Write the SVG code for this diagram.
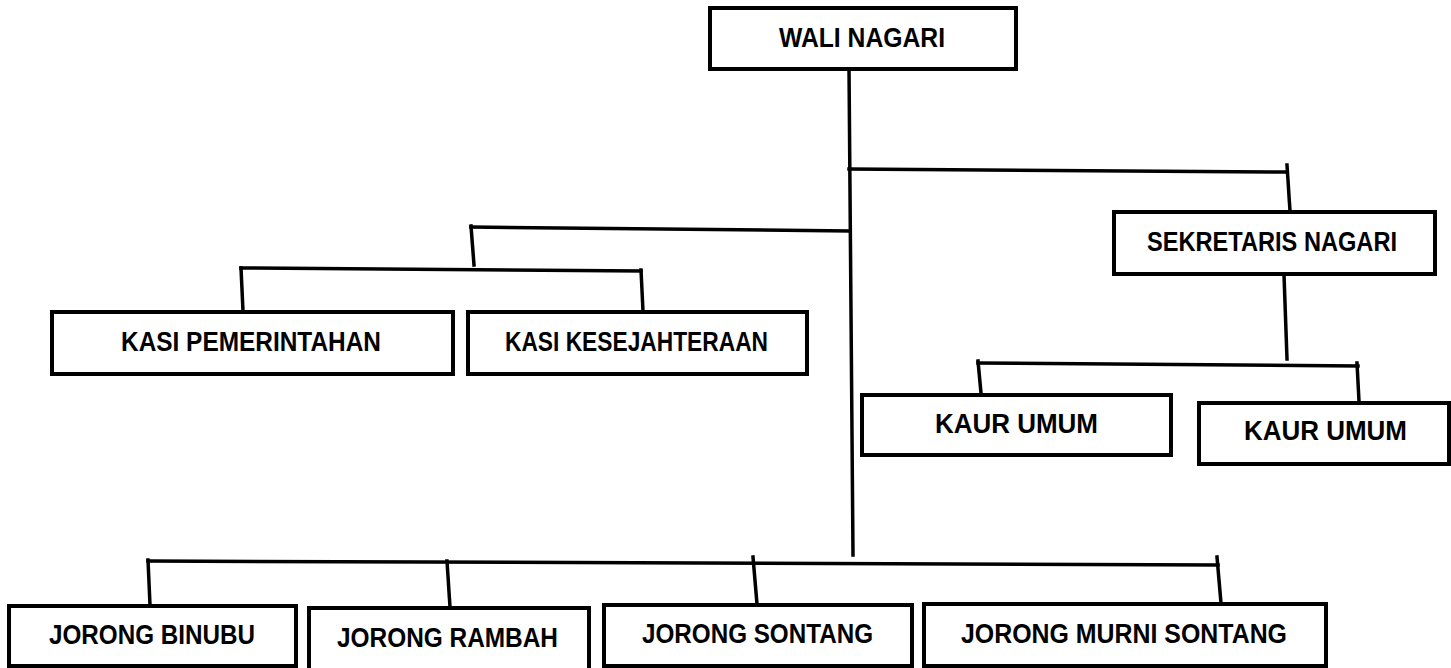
<svg xmlns="http://www.w3.org/2000/svg" width="1451" height="668" viewBox="0 0 1451 668">
<style>
.box{fill:#fff;stroke:#000;stroke-width:4}
.lbl{font-family:"Liberation Sans",Arial,sans-serif;font-weight:bold;font-size:27px;fill:#000}
.con line{stroke:#000;stroke-width:3.5;stroke-linecap:square}
</style>
<rect width="1451" height="668" fill="#fff"/>
<g id="connectors" class="con">
<line x1="849" y1="68" x2="853" y2="555"/>
<line x1="849" y1="169" x2="1287" y2="172"/>
<line x1="1287" y1="165" x2="1290" y2="211"/>
<line x1="1284" y1="275" x2="1287" y2="359"/>
<line x1="978" y1="363" x2="1358" y2="366"/>
<line x1="978" y1="361" x2="981" y2="393"/>
<line x1="1357" y1="363" x2="1359" y2="401"/>
<line x1="471" y1="227" x2="849" y2="231"/>
<line x1="471" y1="226" x2="474" y2="265"/>
<line x1="241" y1="268" x2="641" y2="271"/>
<line x1="241" y1="268" x2="243" y2="311"/>
<line x1="641" y1="270" x2="643" y2="311"/>
<line x1="148" y1="561" x2="1218" y2="565"/>
<line x1="148" y1="560" x2="150" y2="605"/>
<line x1="447" y1="561" x2="450" y2="607"/>
<line x1="753" y1="557" x2="757" y2="604"/>
<line x1="1217" y1="557" x2="1221" y2="603"/>
</g>
<g id="wali-nagari"><rect class="box" x="710" y="8" width="306" height="61"/><text class="lbl" x="779" y="47" textLength="166" lengthAdjust="spacingAndGlyphs">WALI NAGARI</text></g>
<g id="sekretaris-nagari"><rect class="box" x="1114" y="212" width="321" height="62"/><text class="lbl" x="1147" y="251" textLength="250" lengthAdjust="spacingAndGlyphs">SEKRETARIS NAGARI</text></g>
<g id="kasi-pemerintahan"><rect class="box" x="52" y="312" width="401" height="62"/><text class="lbl" x="121" y="351" textLength="260" lengthAdjust="spacingAndGlyphs">KASI PEMERINTAHAN</text></g>
<g id="kasi-kesejahteraan"><rect class="box" x="468" y="312" width="339" height="62"/><text class="lbl" x="505" y="351" textLength="263" lengthAdjust="spacingAndGlyphs">KASI KESEJAHTERAAN</text></g>
<g id="kaur-umum-1"><rect class="box" x="862" y="395" width="309" height="60"/><text class="lbl" x="935" y="433" textLength="163" lengthAdjust="spacingAndGlyphs">KAUR UMUM</text></g>
<g id="kaur-umum-2"><rect class="box" x="1199" y="403" width="250" height="61"/><text class="lbl" x="1244" y="440" textLength="163" lengthAdjust="spacingAndGlyphs">KAUR UMUM</text></g>
<g id="jorong-binubu"><rect class="box" x="9" y="606" width="287" height="60"/><text class="lbl" x="49" y="644" textLength="206" lengthAdjust="spacingAndGlyphs">JORONG BINUBU</text></g>
<g id="jorong-rambah"><rect class="box" x="309" y="608" width="280" height="66"/><text class="lbl" x="337" y="647" textLength="221" lengthAdjust="spacingAndGlyphs">JORONG RAMBAH</text></g>
<g id="jorong-sontang"><rect class="box" x="604" y="605" width="308" height="61"/><text class="lbl" x="642" y="643" textLength="231" lengthAdjust="spacingAndGlyphs">JORONG SONTANG</text></g>
<g id="jorong-murni-sontang"><rect class="box" x="924" y="604" width="402" height="62"/><text class="lbl" x="961" y="643" textLength="326" lengthAdjust="spacingAndGlyphs">JORONG MURNI SONTANG</text></g>
</svg>
